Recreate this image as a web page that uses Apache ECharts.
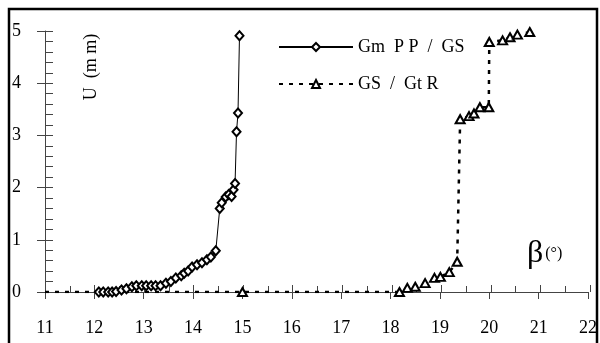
<!DOCTYPE html>
<html>
<head>
<meta charset="utf-8">
<script src="https://cdn.jsdelivr.net/npm/echarts@6/dist/echarts.min.js"></script>
<style>
html,body{margin:0;padding:0;background:#fff;}
#chart{width:600px;height:343px;}
</style>
</head>
<body>
<div id="chart"></div>
<script>
// ---- data ----
const seriesNames = ['Gm  P P  /  GS', 'GS  /  Gt R'];
const xTicks = [11, 12, 13, 14, 15, 16, 17, 18, 19, 20, 21, 22];
const yTicks = [0, 1, 2, 3, 4, 5];

const gmX = [12.09, 12.18, 12.28, 12.36, 12.44, 12.55, 12.65, 12.76, 12.85, 12.96, 13.05, 13.15, 13.24, 13.34,
             13.45, 13.55, 13.65, 13.76, 13.82, 13.90, 13.98, 14.08, 14.18, 14.28, 14.36, 14.46,
             14.54, 14.58, 14.66, 14.72, 14.78, 14.82, 14.85, 14.88, 14.91, 14.94];
const gmY = [0, 0, 0, 0, 0.01, 0.04, 0.06, 0.10, 0.12, 0.12, 0.12, 0.12, 0.12, 0.12,
             0.17, 0.20, 0.27, 0.31, 0.36, 0.40, 0.48, 0.52, 0.56, 0.62, 0.67, 0.79,
             1.60, 1.71, 1.82, 1.87, 1.83, 1.96, 2.08, 3.07, 3.43, 4.91];

const gsX = [11, 15.0, 18.18, 18.34, 18.50, 18.70, 18.89, 19.01, 19.19, 19.35,
             19.41, 19.59, 19.69, 19.81, 19.99, 20.0, 20.27, 20.42, 20.57, 20.82];
const gsY = [0, 0, 0, 0.08, 0.10, 0.17, 0.27, 0.29, 0.38, 0.58,
             3.31, 3.37, 3.42, 3.54, 3.54, 4.79, 4.82, 4.88, 4.93, 4.98];

// ---- chart ----
const FONT = 'Liberation Serif';
const AX = '#444';
const chart = echarts.init(document.getElementById('chart'));

const gmData = gmX.map((x, i) => [x, gmY[i]]);
const gsData = gsX.map((x, i) => i === 0 ? {value: [x, gsY[i]], symbol: 'none'} : [x, gsY[i]]);

const gridRect = {left: 45, right: 10, top: 31, bottom: 51};

chart.setOption({
  animation: false,
  backgroundColor: '#fff',
  grid: [Object.assign({}, gridRect), Object.assign({}, gridRect)],
  xAxis: [
    {
      type: 'value', gridIndex: 0, min: xTicks[0], max: xTicks[xTicks.length - 1], interval: 1,
      axisLine: {show: true, onZero: false, lineStyle: {color: AX, width: 1}},
      axisTick: {show: true, inside: false, length: 7, lineStyle: {color: AX}},
      axisLabel: {show: true, margin: 27, fontFamily: FONT, fontSize: 18, color: '#000'},
      splitLine: {show: false}
    },
    {
      type: 'value', gridIndex: 1, min: xTicks[0], max: xTicks[xTicks.length - 1], interval: 1,
      axisLine: {show: false, onZero: false},
      axisTick: {show: true, inside: true, length: 7, lineStyle: {color: AX}},
      minorTick: {show: true, splitNumber: 2, length: 6, lineStyle: {color: AX}},
      axisLabel: {show: false},
      splitLine: {show: false}
    }
  ],
  yAxis: [
    {
      type: 'value', gridIndex: 0, min: yTicks[0], max: yTicks[yTicks.length - 1], interval: 1,
      axisLine: {show: true, onZero: false, lineStyle: {color: AX, width: 1}},
      axisTick: {show: true, inside: false, length: 8, lineStyle: {color: AX}},
      axisLabel: {show: true, margin: 24, fontFamily: FONT, fontSize: 18, color: '#000'},
      splitLine: {show: false}
    },
    {
      type: 'value', gridIndex: 1, min: yTicks[0], max: yTicks[yTicks.length - 1], interval: 1,
      axisLine: {show: false, onZero: false},
      axisTick: {show: true, inside: true, length: 8, lineStyle: {color: AX}},
      minorTick: {show: true, splitNumber: 5, length: 8, lineStyle: {color: AX}},
      axisLabel: {show: false},
      splitLine: {show: false}
    }
  ],
  legend: {
    orient: 'vertical', left: 273, top: 33, itemWidth: 74, itemHeight: 10, itemGap: 19,
    textStyle: {fontFamily: FONT, fontSize: 18, color: '#000'},
    data: seriesNames
  },
  graphic: [
    {type: 'rect', shape: {x: 9, y: 9, width: 588, height: 345}, style: {fill: 'none', stroke: '#000', lineWidth: 2.5}, silent: true},
    {type: 'text', x: 91, y: 67, rotation: Math.PI / 2, style: {text: 'U  (m m)', fontFamily: FONT, fontSize: 18, fill: '#000', align: 'center', verticalAlign: 'middle'}},
    {type: 'text', left: 527, top: 238, style: {text: '{b|β}{p|(°)}', rich: {b: {fontFamily: FONT, fontSize: 32, fill: '#000'}, p: {fontFamily: FONT, fontSize: 16, fill: '#000', padding: [0, 0, 0, 2]}}}}
  ],
  series: [
    {
      name: seriesNames[0], type: 'line', xAxisIndex: 0, yAxisIndex: 0, z: 4,
      data: gmData, symbol: 'diamond', symbolSize: [8, 9], showAllSymbol: true,
      lineStyle: {color: '#000', width: 1},
      itemStyle: {color: '#fff', borderColor: '#000', borderWidth: 2}
    },
    {
      name: seriesNames[1], type: 'line', xAxisIndex: 0, yAxisIndex: 0, z: 3,
      data: gsData, symbol: 'triangle', symbolSize: [9, 8], showAllSymbol: true,
      lineStyle: {color: '#000', width: 2.5, type: [4, 6]},
      itemStyle: {color: '#fff', borderColor: '#000', borderWidth: 2}
    }
  ]
});
</script>
</body>
</html>
